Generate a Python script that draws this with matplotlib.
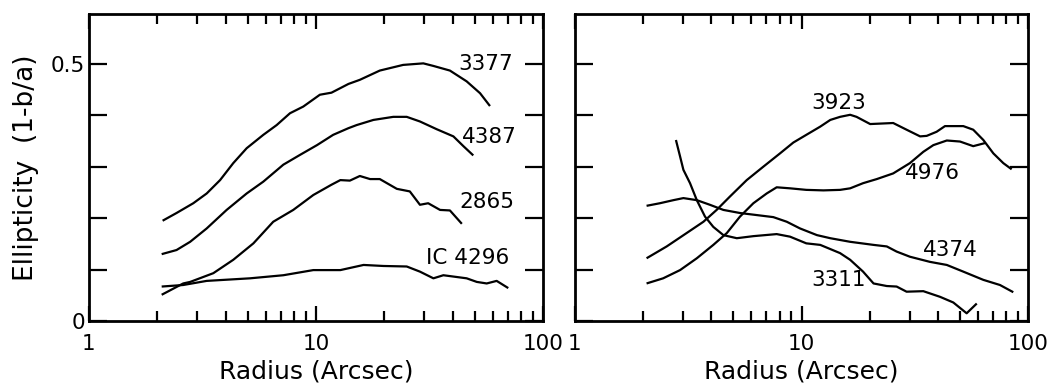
import numpy as np
import matplotlib
matplotlib.use("Agg")
import matplotlib.pyplot as plt
from matplotlib.ticker import FixedLocator, NullFormatter, FixedFormatter

plt.rcParams['font.family'] = ['DejaVu Sans']

# ---- Left panel data (radius in arcsec, ellipticity) ----
r_3377 = [2.11, 2.43, 2.88, 3.30, 3.78, 4.32, 4.95, 5.86, 6.71, 7.68, 8.79, 10.4, 11.7, 13.9,
          15.6, 19.1, 24.2, 29.7, 32.9, 38.9, 46.1, 52.8, 58.4]
e_3377 = [0.195, 0.210, 0.229, 0.248, 0.274, 0.307, 0.336, 0.362, 0.381, 0.404, 0.417, 0.440, 0.444, 0.461,
          0.469, 0.487, 0.498, 0.501, 0.496, 0.487, 0.466, 0.443, 0.418]

r_4387 = [2.09, 2.43, 2.79, 3.30, 4.04, 4.95, 5.86, 7.18, 8.50, 10.1, 11.9, 13.9, 15.1, 17.9,
          21.9, 25.1, 28.7, 34.0, 40.3, 44.6, 49.3]
e_4387 = [0.130, 0.138, 0.154, 0.180, 0.216, 0.248, 0.271, 0.304, 0.323, 0.342, 0.362, 0.375, 0.381, 0.391,
          0.397, 0.397, 0.388, 0.373, 0.359, 0.340, 0.322]

r_2865 = [2.09, 2.60, 2.79, 3.53, 4.32, 5.30, 6.48, 7.94, 9.73, 11.7, 12.8, 14.1, 15.6, 17.3,
          19.1, 22.7, 25.9, 28.7, 31.2, 35.2, 38.9, 43.9]
e_2865 = [0.051, 0.073, 0.076, 0.093, 0.119, 0.151, 0.193, 0.216, 0.245, 0.265, 0.274, 0.273, 0.282, 0.276,
          0.276, 0.257, 0.252, 0.226, 0.229, 0.216, 0.215, 0.189]

r_ic4296 = [2.09, 2.60, 3.30, 5.12, 7.18, 9.73, 12.8, 16.2, 19.8, 25.1, 28.7, 32.9, 36.4, 46.1,
            51.1, 56.5, 62.5, 70.3]
e_ic4296 = [0.067, 0.070, 0.078, 0.083, 0.089, 0.099, 0.099, 0.109, 0.107, 0.106, 0.096, 0.083, 0.089, 0.083,
            0.076, 0.073, 0.078, 0.064]

# ---- Right panel data ----
r_3923 = [2.07, 2.54, 3.11, 3.69, 4.22, 4.83, 5.73, 6.78, 8.04, 9.20, 10.5, 12.1, 13.4, 14.8, 16.4,
          17.5, 20.1, 25.4, 29.1, 33.4, 35.7, 39.5, 43.0, 51.8, 57.3, 63.5, 70.3, 77.8, 84.7]
e_3923 = [0.122, 0.145, 0.171, 0.193, 0.216, 0.242, 0.274, 0.300, 0.326, 0.347, 0.362, 0.378, 0.391, 0.397, 0.401,
          0.397, 0.383, 0.385, 0.372, 0.359, 0.360, 0.368, 0.379, 0.379, 0.372, 0.352, 0.326, 0.307, 0.295]

r_4976 = [2.07, 2.45, 2.91, 3.45, 4.08, 4.68, 5.35, 6.13, 7.02, 7.77, 8.90, 10.5, 12.5, 14.8, 16.4,
          18.7, 21.5, 25.4, 30.1, 34.5, 38.2, 43.8, 50.1, 57.3, 64.6]
e_4976 = [0.073, 0.083, 0.099, 0.122, 0.148, 0.171, 0.203, 0.229, 0.248, 0.260, 0.258, 0.255, 0.254, 0.255, 0.258,
          0.268, 0.276, 0.287, 0.307, 0.329, 0.342, 0.351, 0.349, 0.340, 0.346]

r_4374 = [2.07, 2.37, 2.72, 3.01, 3.45, 3.94, 4.52, 5.35, 6.34, 7.51, 8.61, 9.85, 11.7, 13.4, 16.4,
          20.8, 23.8, 26.3, 30.1, 36.9, 43.8, 51.8, 63.5, 75.2, 86.1]
e_4374 = [0.224, 0.229, 0.235, 0.239, 0.235, 0.226, 0.216, 0.210, 0.206, 0.202, 0.193, 0.180, 0.167, 0.161, 0.154,
          0.148, 0.145, 0.135, 0.125, 0.115, 0.109, 0.096, 0.080, 0.070, 0.056]

r_3311 = [2.79, 2.91, 3.01, 3.22, 3.45, 3.75, 4.08, 4.52, 5.18, 6.13, 7.77, 8.90, 10.5, 12.1, 14.8,
          16.4, 18.7, 20.8, 23.8, 26.3, 29.1, 34.5, 40.9, 46.8, 53.6, 59.4]
e_3311 = [0.352, 0.320, 0.294, 0.268, 0.235, 0.203, 0.183, 0.167, 0.161, 0.165, 0.169, 0.164, 0.151, 0.148, 0.132,
          0.119, 0.096, 0.073, 0.068, 0.067, 0.057, 0.058, 0.047, 0.036, 0.015, 0.034]

left_series = [(r_3377, e_3377), (r_4387, e_4387), (r_2865, e_2865), (r_ic4296, e_ic4296)]
right_series = [(r_3923, e_3923), (r_4976, e_4976), (r_4374, e_4374), (r_3311, e_3311)]

left_labels = ["3377", "4387", "2865", "IC 4296"]
left_label_pos = [(42.2, 0.500), (44.0, 0.358), (43.0, 0.232), (30.5, 0.122)]
right_labels = ["3923", "4976", "4374", "3311"]
right_label_pos = [(11.0, 0.424), (28.5, 0.288), (34.5, 0.138), (11.0, 0.080)]

x_tick_labels = ["1", "10", "100"]
y_tick_labels = ["0", "", "", "", "", "0.5"]

fig = plt.figure(figsize=(10.52, 3.88), dpi=100)
ax1 = fig.add_axes([89/1052, 1-321/388, (543-89)/1052, (321-14)/388])
ax2 = fig.add_axes([575/1052, 1-321/388, (1028-575)/1052, (321-14)/388])

lw = 1.6
for ax, series, labels, pos in [(ax1, left_series, left_labels, left_label_pos),
                                (ax2, right_series, right_labels, right_label_pos)]:
    for r, e in series:
        ax.plot(r, e, color='black', lw=lw, solid_joinstyle='round', solid_capstyle='butt')
    for lab, (x, y) in zip(labels, pos):
        ax.text(x, y, lab, fontsize=15.5, ha='left', va='center', color='black')
    ax.set_xscale('log')
    ax.set_xlim(1, 100)
    ax.set_ylim(0, 0.597)
    for sp in ax.spines.values():
        sp.set_linewidth(2.0)
    ax.xaxis.set_major_locator(FixedLocator([1, 10, 100]))
    ax.xaxis.set_major_formatter(FixedFormatter(x_tick_labels))
    minors = [m * d for d in (1, 10) for m in range(2, 10)]
    ax.xaxis.set_minor_locator(FixedLocator(minors))
    ax.xaxis.set_minor_formatter(NullFormatter())
    ax.yaxis.set_major_locator(FixedLocator([0, 0.1, 0.2, 0.3, 0.4, 0.5]))
    ax.yaxis.set_minor_locator(FixedLocator([]))
    ax.tick_params(axis='x', which='major', direction='in', length=11, width=1.6,
                   top=True, bottom=True, labelsize=15.5, pad=9)
    ax.tick_params(axis='x', which='minor', direction='in', length=7, width=1.6,
                   top=True, bottom=True)
    ax.tick_params(axis='y', which='major', direction='in', length=13, width=1.6,
                   left=True, right=True, labelsize=15.5, pad=3)
    ax.set_xlabel("Radius (Arcsec)", fontsize=18, labelpad=4)

ax1.yaxis.set_major_formatter(FixedFormatter(y_tick_labels))
ax2.yaxis.set_major_formatter(NullFormatter())
ax1.set_ylabel("Ellipticity  (1-b/a)", fontsize=19, labelpad=8)

fig.savefig("out.png", dpi=100)
